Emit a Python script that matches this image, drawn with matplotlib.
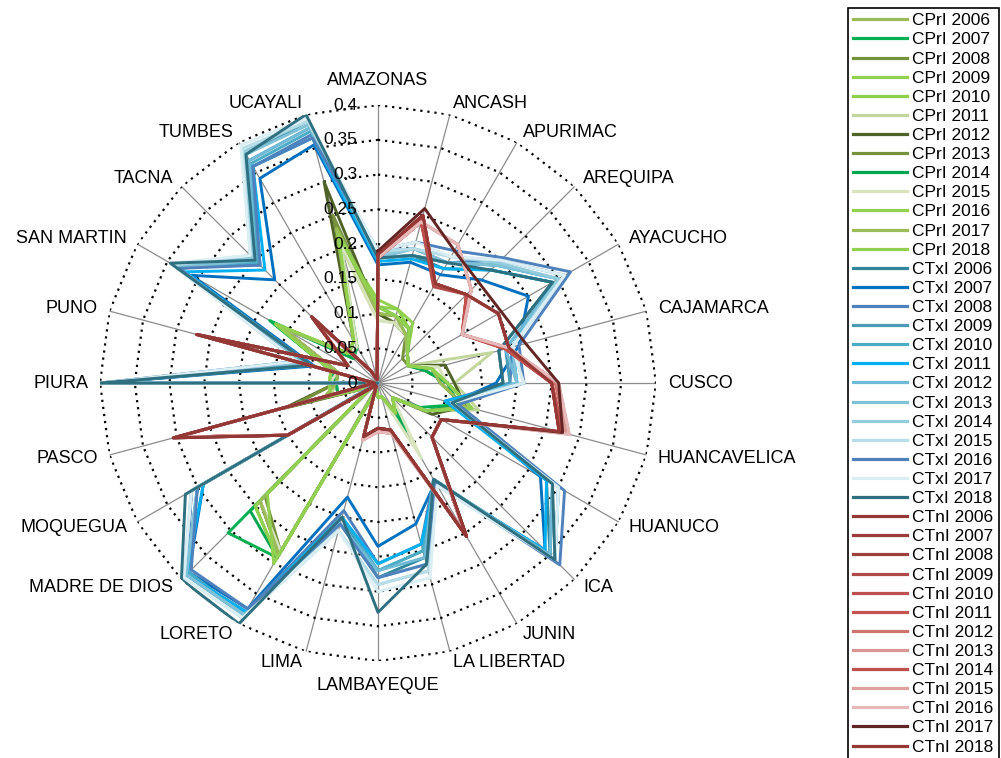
import numpy as np
import matplotlib.pyplot as plt
from matplotlib.lines import Line2D

regions = ["AMAZONAS", "ANCASH", "APURIMAC", "AREQUIPA", "AYACUCHO", "CAJAMARCA",
           "CUSCO", "HUANCAVELICA", "HUANUCO", "ICA", "JUNIN", "LA LIBERTAD",
           "LAMBAYEQUE", "LIMA", "LORETO", "MADRE DE DIOS", "MOQUEGUA", "PASCO",
           "PIURA", "PUNO", "SAN MARTIN", "TACNA", "TUMBES", "UCAYALI"]
years = list(range(2006, 2019))
ticks = [0, 0.05, 0.1, 0.15, 0.2, 0.25, 0.3, 0.35, 0.4]
tick_labels = ["0", "0.05", "0.1", "0.15", "0.2", "0.25", "0.3", "0.35", "0.4"]

# CPrI by year (order of regions above)
cpr = [
    [0.10, 0.10, 0.08, 0.06, 0.05, 0.08, 0.09, 0.13, 0.08, 0.03, 0.05, 0.02, 0.02, 0.01, 0.28, 0.24, 0.01, 0.08, 0.06, 0.06, 0.16, 0.06, 0.07, 0.22],
    [0.11, 0.10, 0.09, 0.06, 0.05, 0.07, 0.10, 0.12, 0.07, 0.03, 0.08, 0.02, 0.02, 0.01, 0.29, 0.305, 0.01, 0.06, 0.06, 0.07, 0.18, 0.05, 0.06, 0.22],
    [0.10, 0.09, 0.08, 0.05, 0.05, 0.08, 0.09, 0.13, 0.08, 0.03, 0.05, 0.02, 0.02, 0.01, 0.28, 0.23, 0.01, 0.13, 0.06, 0.06, 0.16, 0.06, 0.06, 0.25],
    [0.12, 0.11, 0.10, 0.06, 0.05, 0.08, 0.10, 0.14, 0.08, 0.03, 0.05, 0.02, 0.02, 0.01, 0.29, 0.25, 0.01, 0.07, 0.07, 0.07, 0.17, 0.06, 0.07, 0.21],
    [0.11, 0.11, 0.09, 0.06, 0.05, 0.08, 0.10, 0.14, 0.08, 0.03, 0.05, 0.02, 0.02, 0.01, 0.29, 0.25, 0.01, 0.07, 0.07, 0.07, 0.17, 0.06, 0.07, 0.22],
    [0.09, 0.09, 0.08, 0.06, 0.05, 0.17, 0.11, 0.15, 0.08, 0.03, 0.06, 0.02, 0.02, 0.01, 0.28, 0.24, 0.01, 0.07, 0.06, 0.06, 0.16, 0.06, 0.06, 0.20],
    [0.10, 0.09, 0.08, 0.06, 0.05, 0.10, 0.11, 0.13, 0.09, 0.03, 0.05, 0.02, 0.02, 0.01, 0.285, 0.24, 0.01, 0.14, 0.06, 0.06, 0.16, 0.06, 0.07, 0.30],
    [0.10, 0.10, 0.08, 0.06, 0.05, 0.08, 0.09, 0.13, 0.08, 0.03, 0.05, 0.02, 0.02, 0.01, 0.28, 0.24, 0.01, 0.13, 0.06, 0.06, 0.16, 0.06, 0.07, 0.24],
    [0.11, 0.10, 0.09, 0.06, 0.05, 0.07, 0.10, 0.12, 0.08, 0.03, 0.07, 0.02, 0.02, 0.01, 0.29, 0.26, 0.01, 0.06, 0.06, 0.07, 0.17, 0.05, 0.06, 0.22],
    [0.09, 0.09, 0.08, 0.06, 0.05, 0.09, 0.10, 0.14, 0.08, 0.03, 0.125, 0.02, 0.02, 0.01, 0.28, 0.24, 0.01, 0.07, 0.07, 0.06, 0.16, 0.06, 0.06, 0.21],
    [0.11, 0.10, 0.09, 0.06, 0.05, 0.08, 0.10, 0.14, 0.08, 0.03, 0.05, 0.02, 0.02, 0.01, 0.29, 0.25, 0.01, 0.07, 0.07, 0.07, 0.17, 0.06, 0.07, 0.23],
    [0.10, 0.10, 0.08, 0.06, 0.05, 0.08, 0.09, 0.13, 0.08, 0.03, 0.05, 0.02, 0.02, 0.01, 0.285, 0.24, 0.01, 0.08, 0.06, 0.06, 0.16, 0.06, 0.07, 0.23],
    [0.11, 0.10, 0.09, 0.06, 0.05, 0.08, 0.10, 0.14, 0.08, 0.03, 0.05, 0.02, 0.02, 0.01, 0.30, 0.225, 0.01, 0.07, 0.07, 0.07, 0.17, 0.06, 0.07, 0.22],
]

# CTxI by year
ctx = [
    [0.18, 0.19, 0.19, 0.23, 0.29, 0.18, 0.18, 0.11, 0.28, 0.35, 0.16, 0.26, 0.28, 0.20, 0.39, 0.39, 0.31, 0.0, 0.40, 0.10, 0.34, 0.25, 0.38, 0.39],
    [0.17, 0.18, 0.18, 0.21, 0.25, 0.21, 0.17, 0.11, 0.27, 0.34, 0.165, 0.21, 0.235, 0.17, 0.375, 0.385, 0.29, 0.0, 0.40, 0.095, 0.31, 0.21, 0.34, 0.355],
    [0.19, 0.20, 0.20, 0.25, 0.31, 0.20, 0.19, 0.10, 0.30, 0.36, 0.16, 0.24, 0.26, 0.19, 0.38, 0.39, 0.31, 0.0, 0.40, 0.11, 0.335, 0.24, 0.36, 0.37],
    [0.18, 0.19, 0.20, 0.24, 0.30, 0.19, 0.19, 0.11, 0.29, 0.35, 0.165, 0.25, 0.27, 0.20, 0.38, 0.39, 0.30, 0.0, 0.40, 0.10, 0.33, 0.25, 0.37, 0.38],
    [0.18, 0.19, 0.20, 0.24, 0.30, 0.20, 0.20, 0.11, 0.29, 0.35, 0.16, 0.25, 0.27, 0.20, 0.385, 0.385, 0.30, 0.0, 0.40, 0.10, 0.33, 0.245, 0.365, 0.375],
    [0.175, 0.185, 0.19, 0.23, 0.29, 0.20, 0.20, 0.10, 0.28, 0.34, 0.165, 0.24, 0.26, 0.20, 0.38, 0.39, 0.29, 0.0, 0.40, 0.11, 0.32, 0.23, 0.36, 0.365],
    [0.18, 0.19, 0.20, 0.24, 0.30, 0.19, 0.20, 0.11, 0.29, 0.35, 0.16, 0.26, 0.27, 0.21, 0.385, 0.39, 0.30, 0.0, 0.40, 0.11, 0.33, 0.25, 0.37, 0.38],
    [0.18, 0.20, 0.20, 0.24, 0.30, 0.20, 0.20, 0.11, 0.30, 0.36, 0.165, 0.27, 0.28, 0.21, 0.385, 0.39, 0.30, 0.0, 0.40, 0.11, 0.335, 0.25, 0.38, 0.385],
    [0.185, 0.20, 0.21, 0.245, 0.30, 0.20, 0.21, 0.11, 0.30, 0.36, 0.17, 0.28, 0.29, 0.22, 0.39, 0.395, 0.31, 0.0, 0.40, 0.12, 0.34, 0.255, 0.385, 0.39],
    [0.19, 0.20, 0.21, 0.25, 0.31, 0.20, 0.21, 0.11, 0.30, 0.36, 0.17, 0.28, 0.29, 0.22, 0.39, 0.395, 0.31, 0.0, 0.40, 0.12, 0.34, 0.26, 0.39, 0.39],
    [0.19, 0.21, 0.22, 0.255, 0.32, 0.21, 0.21, 0.12, 0.31, 0.37, 0.165, 0.27, 0.28, 0.21, 0.375, 0.38, 0.30, 0.0, 0.40, 0.12, 0.33, 0.24, 0.36, 0.365],
    [0.19, 0.21, 0.21, 0.25, 0.31, 0.20, 0.21, 0.11, 0.30, 0.36, 0.17, 0.29, 0.30, 0.22, 0.39, 0.395, 0.31, 0.0, 0.40, 0.12, 0.345, 0.26, 0.395, 0.395],
    [0.18, 0.19, 0.20, 0.23, 0.29, 0.18, 0.18, 0.11, 0.29, 0.36, 0.16, 0.27, 0.33, 0.20, 0.40, 0.40, 0.32, 0.0, 0.40, 0.10, 0.345, 0.25, 0.38, 0.40],
]

# CTnI by year
ctn = [
    [0.185, 0.25, 0.165, 0.18, 0.20, 0.195, 0.25, 0.27, 0.105, 0.11, 0.255, 0.07, 0.065, 0.08, 0.005, 0.005, 0.15, 0.305, 0.005, 0.27, 0.05, 0.135, 0.02, 0.005],
    [0.185, 0.25, 0.165, 0.18, 0.20, 0.195, 0.25, 0.27, 0.105, 0.11, 0.255, 0.07, 0.065, 0.08, 0.005, 0.005, 0.15, 0.30, 0.005, 0.27, 0.05, 0.135, 0.02, 0.005],
    [0.185, 0.245, 0.165, 0.18, 0.20, 0.195, 0.25, 0.27, 0.105, 0.11, 0.255, 0.07, 0.065, 0.08, 0.005, 0.005, 0.15, 0.30, 0.005, 0.27, 0.05, 0.135, 0.02, 0.005],
    [0.18, 0.24, 0.16, 0.18, 0.14, 0.19, 0.25, 0.275, 0.105, 0.11, 0.25, 0.07, 0.07, 0.08, 0.005, 0.005, 0.15, 0.30, 0.005, 0.27, 0.05, 0.13, 0.02, 0.005],
    [0.18, 0.24, 0.165, 0.18, 0.14, 0.19, 0.25, 0.275, 0.105, 0.11, 0.25, 0.07, 0.07, 0.08, 0.005, 0.005, 0.15, 0.30, 0.005, 0.27, 0.05, 0.13, 0.02, 0.005],
    [0.18, 0.24, 0.165, 0.18, 0.14, 0.19, 0.25, 0.275, 0.105, 0.11, 0.25, 0.07, 0.07, 0.08, 0.005, 0.005, 0.15, 0.30, 0.005, 0.27, 0.05, 0.13, 0.02, 0.005],
    [0.18, 0.24, 0.23, 0.19, 0.14, 0.195, 0.255, 0.28, 0.105, 0.11, 0.25, 0.075, 0.07, 0.085, 0.005, 0.005, 0.15, 0.30, 0.005, 0.27, 0.05, 0.135, 0.02, 0.005],
    [0.18, 0.24, 0.23, 0.19, 0.14, 0.195, 0.26, 0.28, 0.105, 0.11, 0.25, 0.075, 0.07, 0.085, 0.005, 0.005, 0.15, 0.30, 0.005, 0.27, 0.05, 0.135, 0.02, 0.005],
    [0.18, 0.24, 0.165, 0.18, 0.14, 0.19, 0.25, 0.275, 0.105, 0.11, 0.25, 0.07, 0.07, 0.08, 0.005, 0.005, 0.15, 0.30, 0.005, 0.27, 0.05, 0.13, 0.02, 0.005],
    [0.18, 0.24, 0.23, 0.19, 0.14, 0.195, 0.26, 0.285, 0.105, 0.11, 0.25, 0.075, 0.07, 0.085, 0.005, 0.005, 0.15, 0.30, 0.005, 0.27, 0.05, 0.135, 0.02, 0.005],
    [0.18, 0.24, 0.23, 0.19, 0.14, 0.195, 0.26, 0.285, 0.105, 0.11, 0.25, 0.075, 0.07, 0.085, 0.005, 0.005, 0.15, 0.30, 0.005, 0.27, 0.05, 0.135, 0.02, 0.005],
    [0.19, 0.26, 0.22, 0.205, 0.205, 0.22, 0.26, 0.275, 0.105, 0.11, 0.255, 0.07, 0.065, 0.08, 0.005, 0.005, 0.15, 0.305, 0.005, 0.27, 0.05, 0.135, 0.02, 0.005],
    [0.185, 0.25, 0.165, 0.18, 0.20, 0.195, 0.25, 0.27, 0.105, 0.11, 0.255, 0.07, 0.065, 0.08, 0.005, 0.005, 0.15, 0.305, 0.005, 0.27, 0.05, 0.135, 0.02, 0.005],
]

cpr_colors = ["#9BBB59", "#00B050", "#76923C", "#92D050", "#8ED04B", "#C3D69B", "#4F6228",
              "#77933C", "#00A650", "#D7E4BD", "#92D050", "#9BBB59", "#92D050"]
ctx_colors = ["#31859C", "#0070C0", "#4F81BD", "#4A9BB8", "#4BACC6", "#00B0F0", "#6FBAD6",
              "#7FC2D8", "#93CDDD", "#B7DDE8", "#4F81BD", "#DAEEF3", "#2E6F80"]
ctn_colors = ["#953735", "#9B3B3A", "#A0403E", "#B04A48", "#C0504D", "#C55450", "#D07470",
              "#D99694", "#C0504D", "#E0A09E", "#E6B9B8", "#632523", "#953735"]

n = len(regions)
theta = np.arange(n) * 2 * np.pi / n
theta_c = np.append(theta, theta[0])

fig = plt.figure(figsize=(10.01, 7.58), dpi=100)
plt.rcParams['font.family'] = ['Liberation Sans', 'DejaVu Sans']
ax = fig.add_axes([0.0999, 0.1279, 0.5554, 0.7335], projection='polar')
ax.set_theta_zero_location('N')
ax.set_theta_direction(-1)
ax.set_ylim(0, 0.4)
ax.grid(False)
ax.spines['polar'].set_visible(False)
ax.set_xticks([])
ax.set_yticks([])
ax.patch.set_visible(False)

# spokes and dotted polygon rings
for t in theta:
    ax.plot([t, t], [0, 0.4], color="#8C8C8C", lw=0.9, zorder=1)
for v in ticks[1:]:
    ax.plot(theta_c, [v] * (n + 1), color="black", lw=1.6, ls=(0, (1, 2.2)), zorder=1)

handles = []
labels = []
groups = [("CPrI", cpr, cpr_colors), ("CTxI", ctx, ctx_colors), ("CTnI", ctn, ctn_colors)]
for name, data, cols in groups:
    for yr, vals, c in zip(years, data, cols):
        vals_c = vals + [vals[0]]
        ax.plot(theta_c, vals_c, color=c, lw=2.1, zorder=3)
        handles.append(Line2D([], [], color=c, lw=2.3))
        labels.append(f"{name} {yr}")

# radial tick labels along the first axis
for v, lab in zip(ticks, tick_labels):
    ax.annotate(lab, xy=(0, v), xytext=(-15, 0), textcoords='offset points',
                ha='right', va='center', fontsize=12.5, zorder=5)

# region labels
for t, name in zip(theta, regions):
    s, c = np.sin(t), np.cos(t)
    if abs(s) < 1e-6:
        ha = 'center'
        va = 'bottom' if c > 0 else 'top'
        r = 0.423
    else:
        ha = 'left' if s > 0 else 'right'
        va = 'center'
        r = 0.417
    ax.text(t, r, name, ha=ha, va=va, fontsize=13)

leg = fig.legend(handles, labels, loc='upper left', bbox_to_anchor=(848 / 1001, 1 - 8 / 758),
                 fontsize=12.5, frameon=True, fancybox=False, edgecolor='black',
                 handlelength=3.1, handletextpad=0.3, labelspacing=0.228,
                 borderpad=0.3, borderaxespad=0, framealpha=1)
leg.get_frame().set_linewidth(1.2)

fig.savefig("out.png", dpi=100)
